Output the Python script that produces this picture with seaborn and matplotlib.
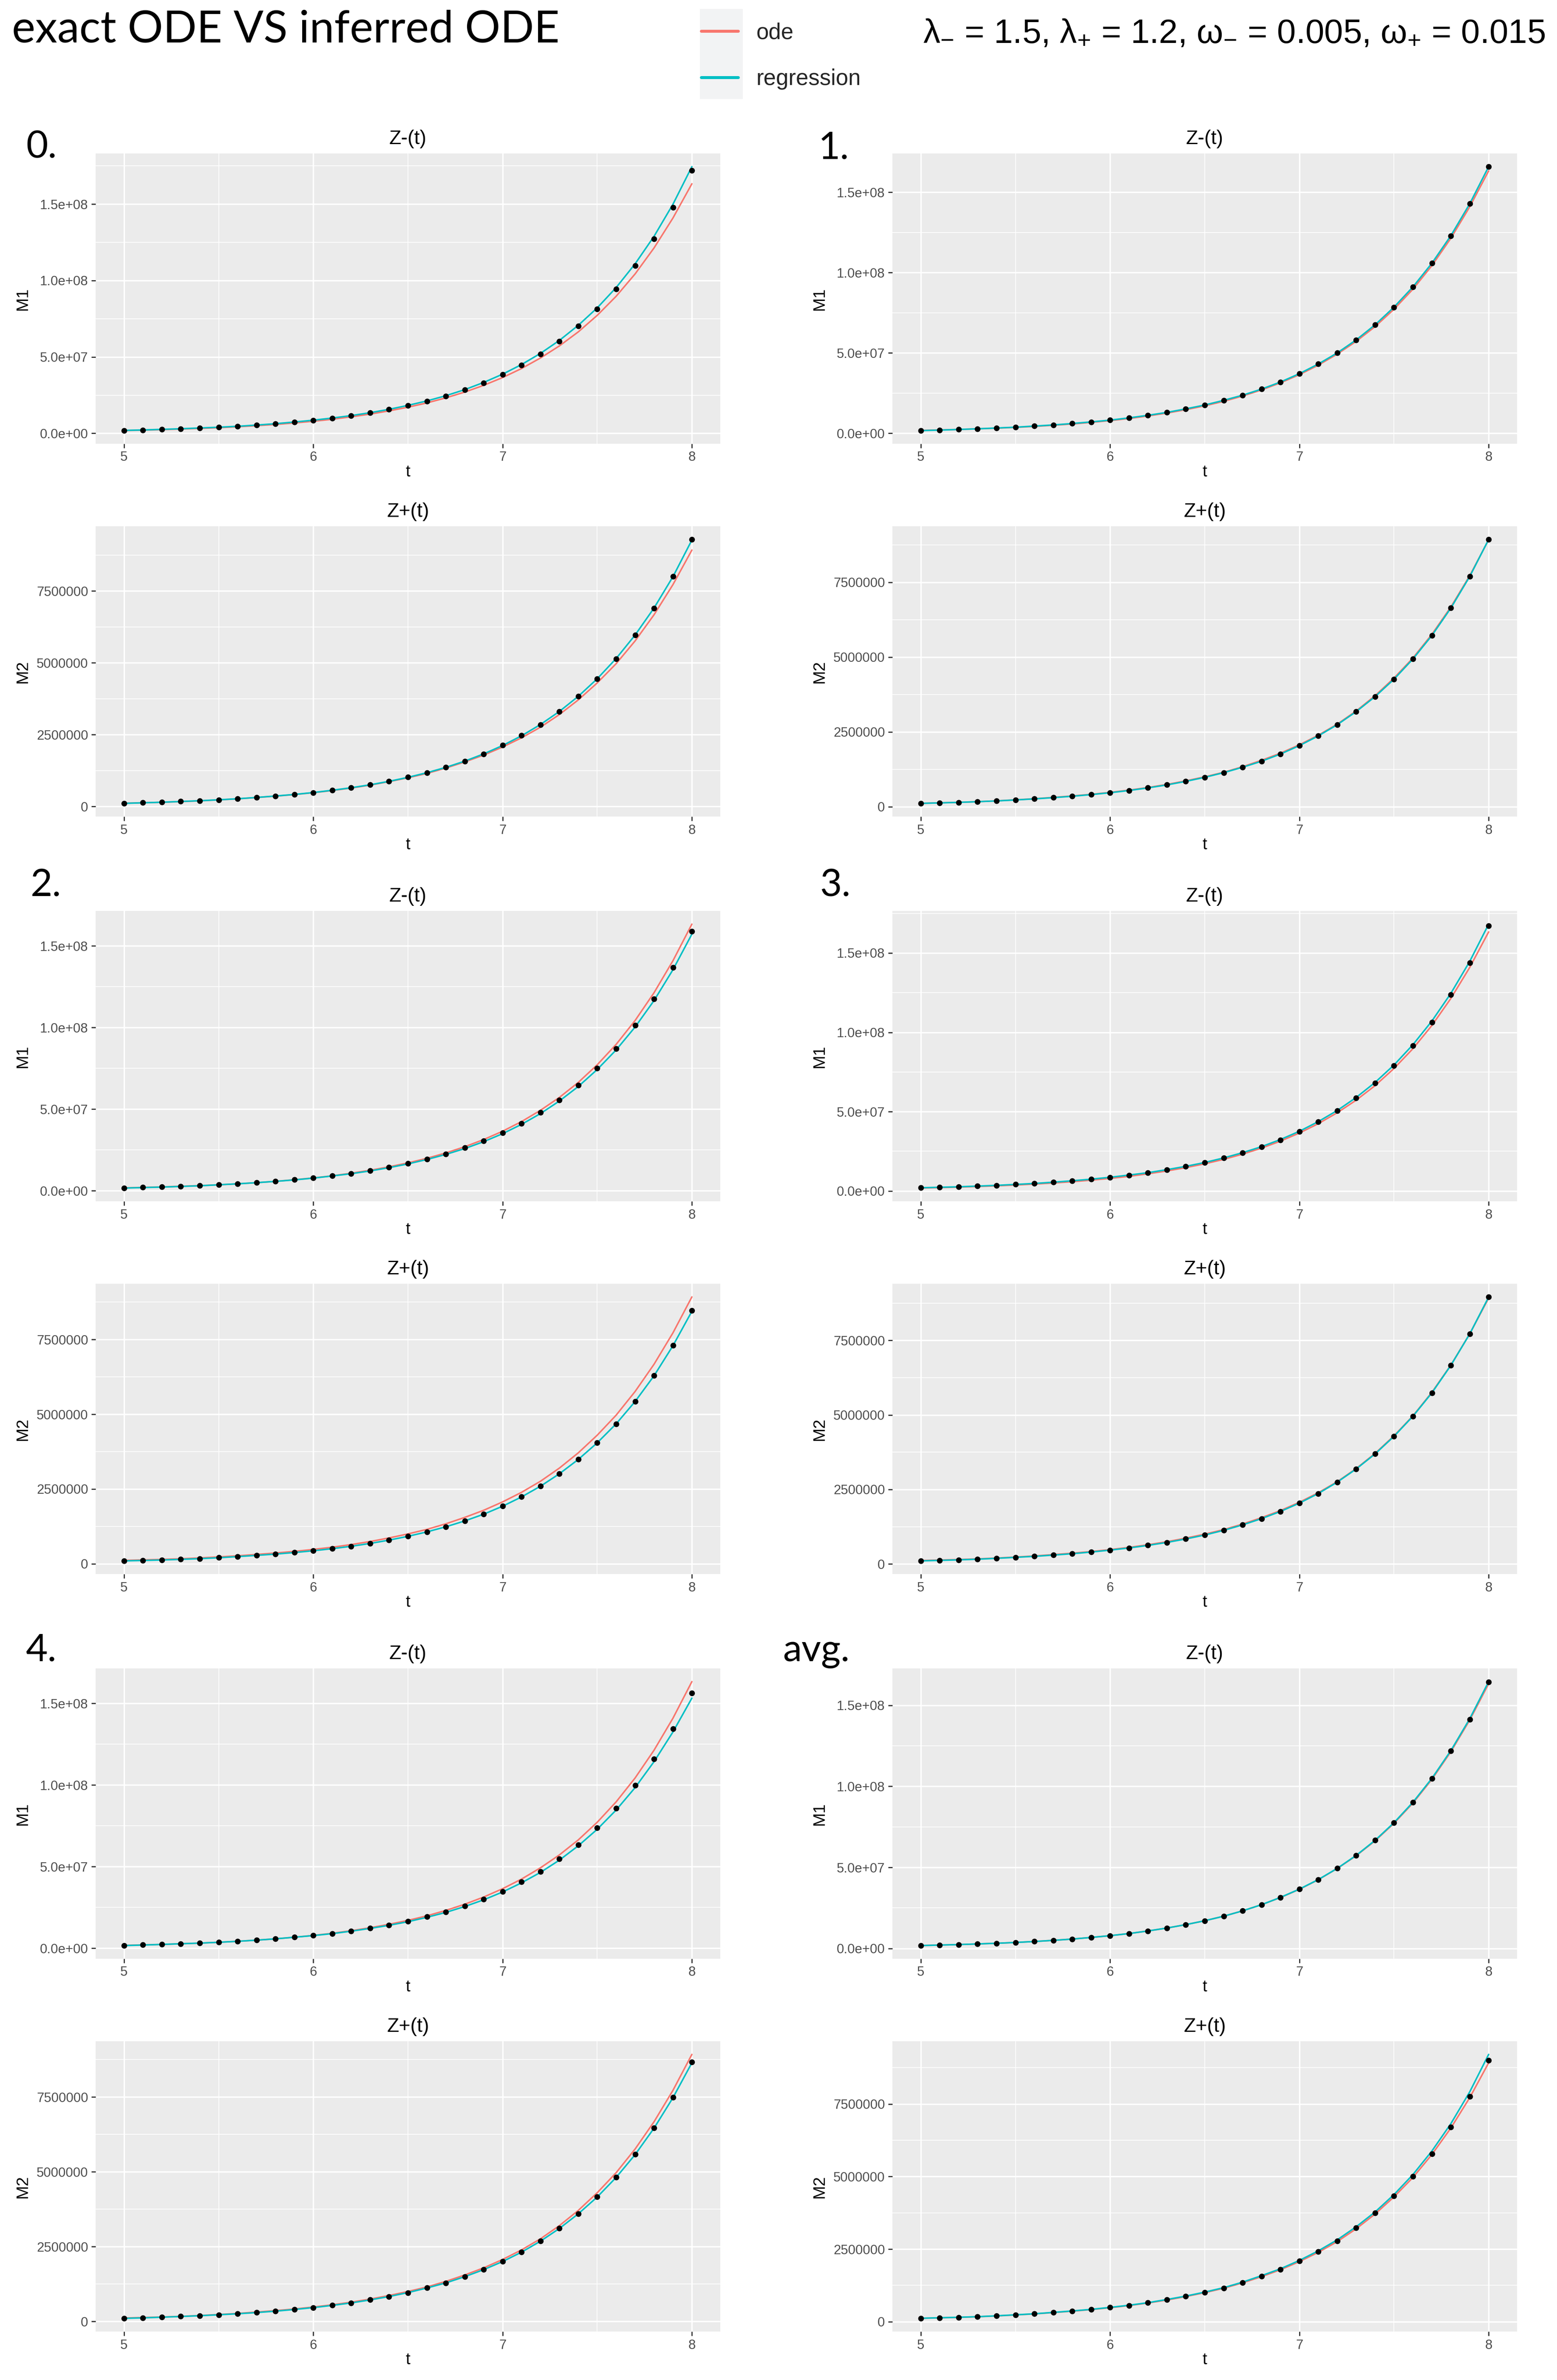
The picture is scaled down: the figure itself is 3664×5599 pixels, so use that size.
import matplotlib
matplotlib.use("Agg")
import matplotlib.pyplot as plt
import numpy as np
import pandas as pd
import seaborn as sns
from matplotlib.ticker import MultipleLocator, FuncFormatter
from matplotlib.lines import Line2D
from matplotlib.patches import Rectangle

# ---------------- data (values in millions) ----------------
t = [5.0, 5.1, 5.2, 5.3, 5.4, 5.5, 5.6, 5.7, 5.8, 5.9, 6.0, 6.1, 6.2, 6.3, 6.4, 6.5,
     6.6, 6.7, 6.8, 6.9, 7.0, 7.1, 7.2, 7.3, 7.4, 7.5, 7.6, 7.7, 7.8, 7.9, 8.0]

groups = ["0.", "1.", "2.", "3.", "4.", "avg."]

# exact ODE (same for every run)
ode_m1 = [1.8, 2.1, 2.4, 2.8, 3.2, 3.7, 4.3, 5.0, 5.8, 6.8, 7.9, 9.2, 10.8, 12.6, 14.7, 17.1,
          19.9, 23.2, 27.0, 31.4, 36.5, 42.4, 49.3, 57.2, 66.4, 77.2, 89.7, 104.3, 121.3, 140.9, 163.3]
ode_m2 = [0.115, 0.132, 0.149, 0.170, 0.198, 0.232, 0.268, 0.314, 0.362, 0.416, 0.482, 0.556, 0.644,
          0.746, 0.866, 1.000, 1.152, 1.338, 1.552, 1.790, 2.070, 2.390, 2.760, 3.200, 3.710, 4.300,
          4.970, 5.760, 6.670, 7.720, 8.920]

# observed points, M1 = Z-(t)
pts_m1_0 = [1.9, 2.2, 2.6, 3.0, 3.5, 4.0, 4.6, 5.3, 6.2, 7.3, 8.5, 9.9, 11.5, 13.4, 15.6, 18.1,
            21.0, 24.4, 28.4, 33.0, 38.4, 44.7, 51.9, 60.3, 70.1, 81.4, 94.4, 109.6, 127.3, 147.9, 171.9]
pts_m1_1 = [1.7, 2.0, 2.4, 2.8, 3.3, 3.8, 4.5, 5.2, 6.1, 7.1, 8.2, 9.6, 11.2, 13.0, 15.2, 17.6,
            20.5, 23.7, 27.5, 31.9, 37.1, 43.1, 50.0, 58.1, 67.5, 78.5, 91.1, 105.8, 122.9, 142.8, 165.9]
pts_m1_2 = [1.8, 2.1, 2.4, 2.8, 3.2, 3.8, 4.4, 5.0, 5.9, 6.8, 7.9, 9.3, 10.6, 12.4, 14.4, 16.8,
            19.4, 22.5, 26.3, 30.6, 35.5, 41.2, 48.0, 55.6, 64.6, 75.1, 87.1, 101.3, 117.6, 136.7, 158.9]
pts_m1_3 = [2.0, 2.3, 2.6, 3.05, 3.5, 4.1, 4.7, 5.5, 6.4, 7.3, 8.5, 9.9, 11.4, 13.3, 15.4, 17.8,
            20.7, 23.9, 27.7, 32.2, 37.5, 43.6, 50.5, 58.7, 68.1, 79.1, 91.6, 106.4, 123.6, 143.8, 167.1]
pts_m1_4 = [1.8, 2.1, 2.5, 2.8, 3.3, 3.7, 4.3, 5.1, 5.9, 6.9, 7.9, 9.1, 10.6, 12.3, 14.3, 16.5,
            19.3, 22.3, 25.9, 30.1, 34.8, 40.6, 47.0, 54.8, 63.5, 73.8, 85.7, 99.7, 115.9, 134.4, 156.2]
pts_m1_avg = [1.8, 2.1, 2.4, 2.8, 3.2, 3.7, 4.3, 5.0, 5.8, 6.8, 7.9, 9.2, 10.8, 12.6, 14.7, 17.1,
              19.9, 23.2, 27.0, 31.5, 36.6, 42.5, 49.4, 57.4, 66.7, 77.5, 90.1, 104.8, 121.9, 141.4, 164.3]

# regression fits, M1
reg_m1_0 = [1.9, 2.2, 2.6, 3.0, 3.5, 4.0, 4.6, 5.4, 6.3, 7.4, 8.6, 10.0, 11.6, 13.5, 15.7, 18.3,
            21.2, 24.6, 28.6, 33.3, 38.7, 45.0, 52.3, 60.8, 70.7, 82.1, 95.4, 110.9, 128.9, 149.9, 174.5]
reg_m1_1 = [1.7, 2.0, 2.4, 2.8, 3.3, 3.8, 4.5, 5.2, 6.1, 7.1, 8.2, 9.6, 11.2, 13.0, 15.2, 17.6,
            20.5, 23.7, 27.5, 31.9, 37.1, 43.1, 50.0, 58.1, 67.5, 78.5, 91.1, 105.8, 122.9, 142.8, 165.9]
reg_m1_2 = [1.7, 2.0, 2.3, 2.7, 3.1, 3.7, 4.3, 5.0, 5.8, 6.7, 7.8, 9.1, 10.5, 12.2, 14.2, 16.5,
            19.2, 22.3, 25.9, 30.1, 35.0, 40.7, 47.3, 55.0, 63.9, 74.3, 86.3, 100.3, 116.5, 135.4, 157.2]
reg_m1_3 = [2.0, 2.3, 2.6, 3.05, 3.5, 4.1, 4.7, 5.5, 6.4, 7.4, 8.6, 10.0, 11.5, 13.4, 15.5, 17.9,
            20.8, 24.1, 27.9, 32.4, 37.6, 43.7, 50.7, 58.9, 68.4, 79.4, 92.2, 107.1, 124.5, 144.7, 168.2]
reg_m1_4 = [1.7, 2.0, 2.4, 2.8, 3.2, 3.7, 4.3, 5.0, 5.8, 6.8, 7.8, 9.0, 10.5, 12.2, 14.1, 16.3,
            19.0, 22.0, 25.6, 29.7, 34.5, 40.1, 46.5, 54.0, 62.8, 72.9, 84.7, 98.4, 114.3, 132.5, 153.2]
reg_m1_avg = [1.8, 2.1, 2.4, 2.8, 3.2, 3.7, 4.3, 5.0, 5.8, 6.8, 7.9, 9.2, 10.8, 12.6, 14.7, 17.1,
              19.9, 23.2, 27.0, 31.5, 36.6, 42.5, 49.4, 57.4, 66.7, 77.6, 90.2, 104.9, 122.0, 141.7, 164.6]

# observed points, M2 = Z+(t)
pts_m2_0 = [0.110, 0.134, 0.150, 0.176, 0.200, 0.234, 0.268, 0.318, 0.368, 0.418, 0.485, 0.569, 0.653,
            0.753, 0.879, 1.020, 1.180, 1.360, 1.580, 1.830, 2.130, 2.470, 2.850, 3.310, 3.830, 4.440,
            5.140, 5.960, 6.900, 8.000, 9.290]
pts_m2_1 = [0.114, 0.130, 0.146, 0.170, 0.195, 0.227, 0.268, 0.308, 0.349, 0.406, 0.471, 0.544, 0.633,
            0.731, 0.852, 0.982, 1.136, 1.323, 1.518, 1.761, 2.045, 2.370, 2.740, 3.180, 3.680, 4.260,
            4.940, 5.720, 6.640, 7.690, 8.930]
pts_m2_2 = [0.103, 0.111, 0.127, 0.150, 0.175, 0.206, 0.246, 0.286, 0.325, 0.381, 0.437, 0.508, 0.587,
            0.683, 0.794, 0.921, 1.071, 1.238, 1.437, 1.659, 1.929, 2.238, 2.595, 3.016, 3.490, 4.050,
            4.680, 5.430, 6.290, 7.300, 8.470]
pts_m2_3 = [0.104, 0.120, 0.136, 0.160, 0.192, 0.224, 0.256, 0.296, 0.344, 0.400, 0.464, 0.536, 0.624,
            0.720, 0.841, 0.969, 1.129, 1.313, 1.521, 1.761, 2.042, 2.362, 2.746, 3.187, 3.691, 4.283,
            4.956, 5.741, 6.661, 7.718, 8.959]
pts_m2_4 = [0.104, 0.120, 0.144, 0.168, 0.192, 0.224, 0.256, 0.296, 0.345, 0.400, 0.465, 0.537, 0.617,
            0.721, 0.833, 0.962, 1.122, 1.282, 1.498, 1.731, 2.003, 2.316, 2.684, 3.109, 3.598, 4.159,
            4.816, 5.577, 6.466, 7.484, 8.670]
pts_m2_avg = [0.118, 0.135, 0.150, 0.170, 0.200, 0.236, 0.270, 0.320, 0.370, 0.420, 0.490, 0.560, 0.650,
              0.760, 0.875, 1.010, 1.160, 1.350, 1.570, 1.800, 2.090, 2.410, 2.780, 3.230, 3.740, 4.330,
              5.000, 5.790, 6.700, 7.760, 9.010]

# regression fits, M2
reg_m2_0 = [0.110, 0.130, 0.150, 0.176, 0.202, 0.234, 0.270, 0.316, 0.366, 0.420, 0.487, 0.566, 0.654,
            0.756, 0.877, 1.015, 1.176, 1.362, 1.578, 1.830, 2.122, 2.460, 2.853, 3.307, 3.834, 4.445,
            5.150, 5.965, 6.905, 7.995, 9.270]
reg_m2_1 = [0.114, 0.130, 0.148, 0.170, 0.196, 0.228, 0.264, 0.305, 0.352, 0.407, 0.470, 0.544, 0.631,
            0.731, 0.849, 0.984, 1.140, 1.320, 1.522, 1.762, 2.043, 2.368, 2.742, 3.178, 3.681, 4.262,
            4.938, 5.721, 6.635, 7.692, 8.930]
reg_m2_2 = [0.100, 0.113, 0.129, 0.150, 0.174, 0.204, 0.243, 0.283, 0.326, 0.379, 0.437, 0.507, 0.587,
            0.682, 0.793, 0.920, 1.068, 1.238, 1.434, 1.659, 1.926, 2.236, 2.594, 3.010, 3.490, 4.045,
            4.680, 5.425, 6.285, 7.290, 8.440]
reg_m2_3 = [0.104, 0.120, 0.138, 0.160, 0.189, 0.222, 0.256, 0.297, 0.344, 0.400, 0.464, 0.537, 0.623,
            0.722, 0.839, 0.971, 1.128, 1.311, 1.521, 1.762, 2.041, 2.364, 2.745, 3.186, 3.692, 4.282,
            4.957, 5.740, 6.660, 7.718, 8.955]
reg_m2_4 = [0.104, 0.120, 0.142, 0.166, 0.192, 0.223, 0.257, 0.297, 0.344, 0.400, 0.463, 0.536, 0.620,
            0.719, 0.833, 0.964, 1.118, 1.288, 1.496, 1.731, 2.001, 2.315, 2.681, 3.106, 3.596, 4.158,
            4.812, 5.572, 6.456, 7.473, 8.640]
reg_m2_avg = [0.118, 0.135, 0.152, 0.172, 0.202, 0.236, 0.272, 0.320, 0.370, 0.424, 0.492, 0.566, 0.655,
              0.764, 0.882, 1.018, 1.172, 1.362, 1.585, 1.822, 2.110, 2.440, 2.820, 3.270, 3.780, 4.380,
              5.070, 5.880, 6.820, 7.920, 9.210]

pts_m1 = [pts_m1_0, pts_m1_1, pts_m1_2, pts_m1_3, pts_m1_4, pts_m1_avg]
reg_m1 = [reg_m1_0, reg_m1_1, reg_m1_2, reg_m1_3, reg_m1_4, reg_m1_avg]
pts_m2 = [pts_m2_0, pts_m2_1, pts_m2_2, pts_m2_3, pts_m2_4, pts_m2_avg]
reg_m2 = [reg_m2_0, reg_m2_1, reg_m2_2, reg_m2_3, reg_m2_4, reg_m2_avg]
UNIT = 1e6

COLORS = {"ode": "#F8766D", "regression": "#00BFC4"}

# ---------------- figure ----------------
sns.set_theme(style="darkgrid")
plt.rcParams["font.family"] = ["Liberation Sans", "DejaVu Sans"]
plt.rcParams["mathtext.fontset"] = "custom"
plt.rcParams["mathtext.rm"] = "Liberation Sans"
plt.rcParams["mathtext.it"] = "Liberation Sans"
plt.rcParams["mathtext.default"] = "regular"

W, H = 3664, 5599
DPI = 100
fig = plt.figure(figsize=(W / DPI, H / DPI), dpi=DPI, facecolor="white")

col_left = [225, 2100]
panel_w = 1470
panel_h = 683
group_tops = [361, 2143, 3925]
zplus_off = 877


def fx(px):
    return px / W


def fy(py):
    return 1 - py / H


def fmt_m1(v, pos):
    return "%.1e" % v


def fmt_m2(v, pos):
    return "%d" % int(round(v))


def draw_panel(ax, pts, reg, ode, title, ylab, major, fmt):
    df = pd.DataFrame({
        "t": t,
        "ode": np.array(ode) * UNIT,
        "regression": np.array(reg) * UNIT,
        "points": np.array(pts) * UNIT,
    })
    long = df.melt(id_vars="t", value_vars=["ode", "regression"],
                   var_name="method", value_name="value")
    sns.lineplot(data=long, x="t", y="value", hue="method",
                 hue_order=["ode", "regression"], palette=COLORS,
                 linewidth=2.6, estimator=None, sort=False, legend=False, ax=ax)
    sns.scatterplot(data=df, x="t", y="points", color="black", s=95,
                    linewidth=0, legend=False, ax=ax, zorder=5)
    allv = np.concatenate([df["ode"], df["regression"], df["points"]])
    lo, hi = allv.min(), allv.max()
    r = hi - lo
    ax.set_ylim(lo - 0.05 * r, hi + 0.05 * r)
    ax.set_xlim(4.85, 8.15)
    ax.set_facecolor("#EBEBEB")
    for sp in ax.spines.values():
        sp.set_visible(False)
    ax.xaxis.set_major_locator(MultipleLocator(1))
    ax.xaxis.set_minor_locator(MultipleLocator(0.5))
    ax.yaxis.set_major_locator(MultipleLocator(major))
    ax.yaxis.set_minor_locator(MultipleLocator(major / 2))
    ax.yaxis.set_major_formatter(FuncFormatter(fmt))
    ax.xaxis.set_major_formatter(FuncFormatter(lambda v, p: "%d" % int(round(v))))
    ax.grid(which="major", color="white", linewidth=2.4)
    ax.grid(which="minor", color="white", linewidth=1.2)
    ax.set_axisbelow(True)
    ax.tick_params(which="major", length=7, width=2.0, color="#333333",
                   labelsize=22.4, labelcolor="#4D4D4D", pad=5.6,
                   bottom=True, left=True)
    ax.tick_params(which="minor", length=0)
    ax.set_title(title, fontsize=33.6, pad=16, color="black")
    ax.set_xlabel("t", fontsize=28, color="black")
    ax.set_ylabel(ylab, fontsize=28, color="black")
    ax.xaxis.set_label_coords(0.5, -0.072)
    ax.yaxis.set_label_coords(-0.104, 0.5)


for gi, name in enumerate(groups):
    row, col = gi // 2, gi % 2
    left = col_left[col]
    top1 = group_tops[row]
    top2 = top1 + zplus_off
    ax1 = fig.add_axes([fx(left), fy(top1 + panel_h), fx(panel_w), panel_h / H])
    draw_panel(ax1, pts_m1[gi], reg_m1[gi], ode_m1, "Z-(t)", "M1", 5e7, fmt_m1)
    ax2 = fig.add_axes([fx(left), fy(top2 + panel_h), fx(panel_w), panel_h / H])
    draw_panel(ax2, pts_m2[gi], reg_m2[gi], ode_m2, "Z+(t)", "M2", 2.5e6, fmt_m2)

# group labels
label_pos = {"0.": (61, 371), "1.": (1926, 374), "2.": (72, 2109),
             "3.": (1929, 2109), "4.": (61, 3907), "avg.": (1842, 3908)}
for name, (x, yb) in label_pos.items():
    fig.text(fx(x), fy(yb), name, fontsize=64, family=["Lato", "DejaVu Sans"],
             va="baseline", ha="left", color="black")

# title
fig.text(fx(28), fy(100), "exact ODE VS inferred ODE", fontsize=75,
         family=["Lato", "DejaVu Sans"], va="baseline", ha="left", color="black")

# parameter text
fig.text(fx(2172), fy(99),
         r"$\lambda_{-}$ = 1.5, $\lambda_{+}$ = 1.2, $\omega_{-}$ = 0.005, $\omega_{+}$ = 0.015",
         fontsize=57.5, va="baseline", ha="left", color="black")

# legend
fig.add_artist(Rectangle((fx(1647), fy(233)), fx(101), (233 - 21) / H,
                         transform=fig.transFigure, facecolor="#F2F3F4",
                         edgecolor="none", zorder=0))
handles = [Line2D([0], [0], color=COLORS["ode"], linewidth=5),
           Line2D([0], [0], color=COLORS["regression"], linewidth=5)]
fig.legend(handles, ["ode", "regression"], loc="upper left",
           bbox_to_anchor=(fx(1650), fy(52)), frameon=False, fontsize=38,
           handlelength=1.65, handletextpad=0.8, labelspacing=1.12,
           borderaxespad=0, borderpad=0)

fig.savefig("out.png", dpi=DPI, facecolor="white")
